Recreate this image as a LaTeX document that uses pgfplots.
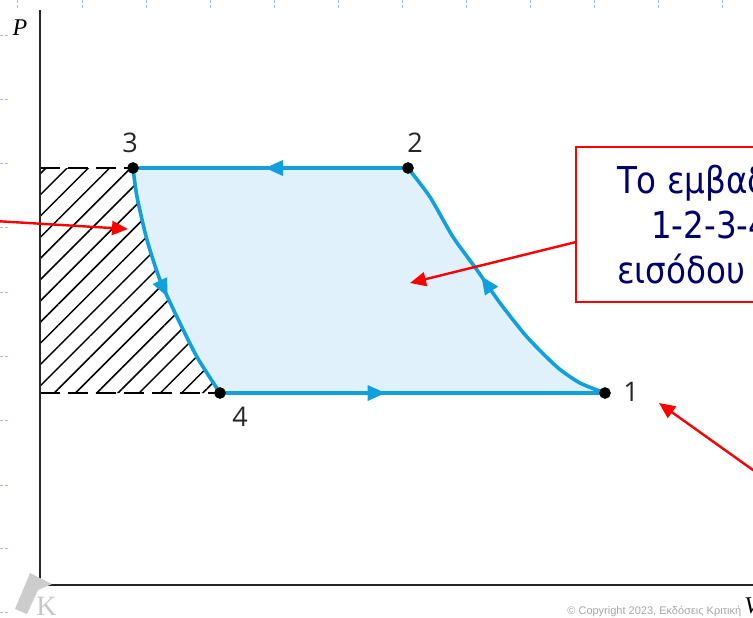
\documentclass[border=0pt]{standalone}
\usepackage{pgfplots}
\pgfplotsset{compat=1.18}
\usepackage{fontspec}
\newfontfamily\greekfont[FakeStretch=0.88]{DejaVu Sans}
\newfontfamily\numfont{Open Sans}
\newfontfamily\cfont{Liberation Sans}
\newfontfamily\seriffont{Liberation Serif}
\usetikzlibrary{arrows.meta,patterns.meta,decorations.markings}
\definecolor{cyc}{RGB}{16,160,222}
\definecolor{cycfill}{RGB}{224,241,251}
\definecolor{navy}{RGB}{0,0,110}
\definecolor{guide}{RGB}{165,185,235}
\pgfplotsset{cycleleg/.style={cyc, line width=1.8pt, postaction={decorate},
  decoration={markings, mark=at position #1 with {\arrow{Triangle[length=9pt,width=7.5pt]}}}}}
\begin{document}
\begin{tikzpicture}
\begin{axis}[
  scale only axis, width=376.5pt, height=308.5pt,
  xmin=0, xmax=753, ymin=0, ymax=617, y dir=reverse,
  hide axis, clip=true,
]
% slide guides
\addplot[guide, line width=0.5pt, dash pattern=on 1.5pt off 1pt, unbounded coords=jump] coordinates {
(0,35)(8,35) (nan,nan) (0,99)(8,99) (nan,nan) (0,163)(8,163) (nan,nan) (0,227)(8,227) (nan,nan)
(0,292)(8,292) (nan,nan) (0,356)(8,356) (nan,nan) (0,420)(8,420) (nan,nan) (0,485)(8,485) (nan,nan)
(0,548)(8,548) (nan,nan) (0,612)(8,612) (nan,nan)
(18,0)(18,8) (nan,nan) (82,0)(82,8) (nan,nan) (146,0)(146,8) (nan,nan) (210,0)(210,8) (nan,nan)
(274,0)(274,8) (nan,nan) (338,0)(338,8) (nan,nan) (402,0)(402,8) (nan,nan) (466,0)(466,8) (nan,nan)
(530,0)(530,8) (nan,nan) (594,0)(594,8) (nan,nan) (658,0)(658,8) (nan,nan) (722,0)(722,8)};
% cycle fill
\addplot[draw=none, fill=cycfill] coordinates {(133,168)(408,168)(430,197)(453,237)(477,270)(500,303)(527,337)(557,367)(580,383)(605,393)(220,393)(197,357)(177,317)(160,280)(147,240)(137,197)} -- cycle;
% hatched region
\addplot[draw=none, pattern={Lines[angle=45,distance=7.5pt,line width=0.75pt]}] coordinates {(40,168)(133,168)(137,197)(147,240)(160,280)(177,317)(197,357)(220,393)(40,393)} -- cycle;
\addplot[black, line width=0.8pt, dash pattern=on 10pt off 4pt] coordinates {(40,168)(133,168)};
\addplot[black, line width=0.8pt, dash pattern=on 10pt off 4pt] coordinates {(40,393)(220,393)};
% axes
\addplot[black!85, line width=1.4pt] coordinates {(40,10)(40,585)(760,585)};
% cycle legs
\addplot[cycleleg=0.52] coordinates {(408,168)(133,168)};
\addplot[cycleleg=0.55, smooth, tension=0.4] coordinates {(133,168)(137,197)(147,240)(160,280)(177,317)(197,357)(220,393)};
\addplot[cycleleg=0.43] coordinates {(220,393)(605,393)};
\addplot[cycleleg=0.57, smooth, tension=0.4] coordinates {(605,393)(580,383)(557,367)(527,337)(500,303)(477,270)(453,237)(430,197)(408,168)};
% state points
\addplot[only marks, mark=*, mark size=2.7pt, black] coordinates {(133,168)(408,168)(605,393)(220,393)};
% red arrows
\addplot[red, line width=1.2pt, -{Triangle[length=8pt,width=7pt]}] coordinates {(-5,221)(128,229)};
\addplot[red, line width=1.2pt, -{Triangle[length=8pt,width=7pt]}] coordinates {(576,242)(410,283)};
\addplot[red, line width=1.2pt, -{Triangle[length=8pt,width=7pt]}] coordinates {(767,480)(659,403)};
% logo
\addplot[fill=black!20, draw=none] coordinates {(30,573)(52,584)(38,590)(27,614)(15,609)} -- cycle;
% text box
\draw[red, line width=0.8pt, fill=white] (axis cs:576,147) rectangle (axis cs:820,302);
\node[anchor=base west, text=navy, font=\greekfont\fontsize{18.5}{22}\selectfont] at (axis cs:610,193) {Το εμβαδόν};
\node[anchor=base west, text=navy, font=\greekfont\fontsize{18.5}{22}\selectfont] at (axis cs:644,238) {1-2-3-4-1};
\node[anchor=base west, text=navy, font=\greekfont\fontsize{18.5}{22}\selectfont] at (axis cs:610,283) {εισόδου};
% labels
\node[font=\numfont\fontsize{13.5}{16}\selectfont, text=black!85] at (axis cs:130,143) {3};
\node[font=\numfont\fontsize{13.5}{16}\selectfont, text=black!85] at (axis cs:415,143) {2};
\node[font=\numfont\fontsize{13.5}{16}\selectfont, text=black!85] at (axis cs:631,392) {1};
\node[font=\numfont\fontsize{13.5}{16}\selectfont, text=black!85] at (axis cs:240,417) {4};
\node[font=\seriffont\itshape\fontsize{12}{14}\selectfont] at (axis cs:20,28) {P};
\node[anchor=west, font=\seriffont\itshape\fontsize{12}{14}\selectfont, inner sep=0pt] at (axis cs:744,606) {V};
\node[anchor=base west, text=black!35, font=\cfont\fontsize{5.5}{7}\selectfont, inner sep=0pt] at (axis cs:567,614) {© Copyright 2023, Εκδόσεις Κριτική};
\node[anchor=north west, text=black!22, font=\seriffont\fontsize{14}{16}\selectfont, inner sep=0pt] at (axis cs:36,597) {K};
\end{axis}
\pgfresetboundingbox
\path[use as bounding box] (current axis.south west) rectangle (current axis.north east);
\end{tikzpicture}
\end{document}
